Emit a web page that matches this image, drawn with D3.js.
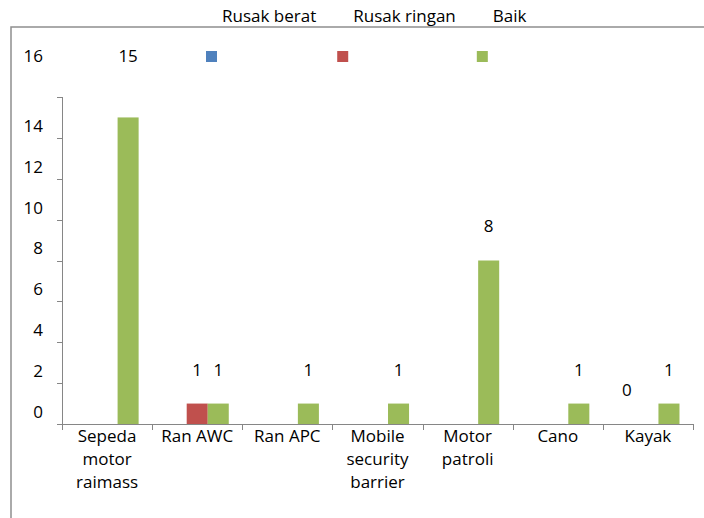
<!DOCTYPE html>
<html>
<head>
<meta charset="utf-8">
<script src="https://cdn.jsdelivr.net/npm/d3@7"></script>
<style>
  body { margin: 0; background: #fff; }
  text { font-family: 'Open Sans', sans-serif; font-size: 17px; fill: #000; }
</style>
</head>
<body>
<svg id="chart" width="704" height="518"></svg>
<script>
const categories = ['Sepeda motor raimass', 'Ran AWC', 'Ran APC', 'Mobile security barrier', 'Motor patroli', 'Cano', 'Kayak'];
const seriesNames = ['Rusak berat', 'Rusak ringan', 'Baik'];
const rusakBerat = [null, null, null, null, null, null, 0];
const rusakRingan = [null, 1, null, null, null, null, null];
const baik = [15, 1, 1, 1, 8, 1, 1];
const yTicks = [0, 2, 4, 6, 8, 10, 12, 14, 16];

const colours = ['#4F81BD', '#C0504D', '#9BBB59'];
const seriesValues = [rusakBerat, rusakRingan, baik];

const svg = d3.select('#chart');

// outer frame (only top and left edges are visible)
svg.append('rect')
  .attr('x', 11).attr('y', 27)
  .attr('width', 800).attr('height', 600)
  .style('fill', 'none')
  .style('stroke', '#8e8e8e')
  .style('stroke-width', 1.5);

const plotL = 62, plotR = 693, plotT = 97, plotB = 424;
const labelRowY = 56; // labels that would sit above the plot get pushed up to this row
const liftLabel = yy => (yy < plotT ? labelRowY : yy);

const x = d3.scaleBand().domain(categories).range([plotL, plotR]).paddingInner(0).paddingOuter(0);
const xSub = d3.scaleBand().domain(seriesNames)
  .range([x.bandwidth() * 0.15, x.bandwidth() * 0.85]);
const y = d3.scaleLinear().domain([0, 16]).range([plotB, plotT]);

// y axis
const axisColour = '#868686';
svg.append('line')
  .attr('x1', plotL + 0.5).attr('x2', plotL + 0.5).attr('y1', y(16)).attr('y2', y(0))
  .style('stroke', axisColour);
svg.selectAll('.ytick')
  .data(yTicks)
  .enter().append('line')
  .attr('x1', plotL - 5).attr('x2', plotL)
  .attr('y1', d => Math.round(y(d)) + 0.5).attr('y2', d => Math.round(y(d)) + 0.5)
  .style('stroke', axisColour);
svg.selectAll('.ylabel')
  .data(yTicks)
  .enter().append('text')
  .attr('x', 43)
  .attr('y', d => liftLabel(y(d) - 12))
  .attr('dy', '0.35em')
  .style('text-anchor', 'end')
  .text(d => d);

// bars
const rows = [];
seriesValues.forEach((vals, si) => {
  vals.forEach((v, ci) => {
    if (v !== null) rows.push({ series: seriesNames[si], colour: colours[si], cat: categories[ci], value: v });
  });
});

svg.append('g')
  .selectAll('rect')
  .data(rows)
  .enter().append('rect')
  .attr('x', d => x(d.cat) + xSub(d.series))
  .attr('width', xSub.bandwidth())
  .attr('y', d => y(d.value))
  .attr('height', d => y(0) - y(d.value))
  .style('fill', d => d.colour);

svg.append('g')
  .selectAll('text')
  .data(rows)
  .enter().append('text')
  .attr('x', d => x(d.cat) + xSub(d.series) + xSub.bandwidth() / 2)
  .attr('y', d => liftLabel(y(d.value) - 34))
  .attr('dy', '0.35em')
  .style('text-anchor', 'middle')
  .text(d => d.value);

// x axis
svg.append('line')
  .attr('x1', plotL - 5).attr('x2', plotR).attr('y1', plotB + 0.5).attr('y2', plotB + 0.5)
  .style('stroke', axisColour);
const bounds = categories.map(c => x(c)).concat([plotR]);
svg.selectAll('.xtick')
  .data(bounds)
  .enter().append('line')
  .attr('x1', d => Math.round(d) + 0.5).attr('x2', d => Math.round(d) + 0.5)
  .attr('y1', plotB).attr('y2', plotB + 6)
  .style('stroke', axisColour);

// category labels, wrapped to the band width
const maxW = x.bandwidth() - 6;
categories.forEach(cat => {
  const cx = x(cat) + x.bandwidth() / 2;
  const t = svg.append('text')
    .attr('x', cx)
    .attr('y', 442)
    .attr('dy', '0.35em')
    .style('text-anchor', 'middle');
  const words = cat.split(' ');
  let line = [];
  let tspan = t.append('tspan').attr('x', cx).attr('dy', 0);
  words.forEach(w => {
    line.push(w);
    tspan.text(line.join(' '));
    if (tspan.node().getComputedTextLength() > maxW && line.length > 1) {
      line.pop();
      tspan.text(line.join(' '));
      line = [w];
      tspan = t.append('tspan').attr('x', cx).attr('dy', 23).text(w);
    }
  });
});

// legend: labels on the top row, markers on the label row
let lx = 206;
seriesNames.forEach((name, i) => {
  svg.append('rect')
    .attr('x', lx).attr('y', labelRowY - 5)
    .attr('width', 11).attr('height', 11)
    .style('fill', colours[i]);
  const t = svg.append('text')
    .attr('x', lx + 16).attr('y', 16)
    .attr('dy', '0.35em')
    .text(name);
  lx += 16 + t.node().getComputedTextLength() + 21;
});
</script>
</body>
</html>
